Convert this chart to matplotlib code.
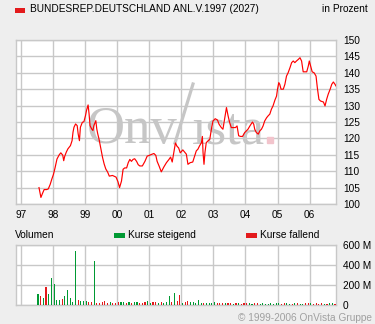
#!/usr/bin/env python3
"""
plot.py

Bond price chart (Bundesrep. Deutschland Anl. v. 1997 / 2027)
with monthly volume panel underneath, OnVista style.
"""

import matplotlib
matplotlib.use("Agg")

import matplotlib.pyplot as plt
from matplotlib.lines import Line2D
import numpy as np

# ============================================================
# DATA
# ============================================================

TITLE = "BUNDESREP.DEUTSCHLAND ANL.V.1997 (2027)"

# price line (decimal year, price in %)
price_years = [
    1997.57, 1997.63, 1997.67, 1997.73, 1997.81, 1997.86, 1997.92, 1997.97,
    1998.02, 1998.07, 1998.13, 1998.20, 1998.25, 1998.31, 1998.34, 1998.37,
    1998.42, 1998.47, 1998.55, 1998.60, 1998.63, 1998.66, 1998.71, 1998.76,
    1998.79, 1998.83, 1998.86, 1998.92, 1998.97, 1999.02, 1999.05, 1999.10,
    1999.13, 1999.16, 1999.21, 1999.25, 1999.28, 1999.34, 1999.37, 1999.40,
    1999.44, 1999.50, 1999.55, 1999.60, 1999.65, 1999.71, 1999.76, 1999.86,
    1999.97, 2000.03, 2000.08,
    2000.14, 2000.19, 2000.24, 2000.30, 2000.35, 2000.40, 2000.45, 2000.50,
    2000.55, 2000.61, 2000.66, 2000.71, 2000.79, 2000.87, 2000.94, 2001.00,
    2001.07, 2001.15, 2001.21, 2001.25, 2001.31, 2001.38, 2001.46, 2001.54,
    2001.62, 2001.67, 2001.72, 2001.75, 2001.78, 2001.82, 2001.87, 2001.92,
    2001.97,
    2002.00, 2002.05, 2002.10, 2002.16, 2002.21, 2002.28, 2002.36, 2002.42,
    2002.47, 2002.52, 2002.57, 2002.63, 2002.66, 2002.68, 2002.71, 2002.74,
    2002.78, 2002.83, 2002.89, 2002.94, 2002.99, 2003.06, 2003.13, 2003.18,
    2003.25, 2003.30, 2003.35, 2003.41, 2003.46, 2003.51, 2003.56, 2003.61,
    2003.69, 2003.74, 2003.79, 2003.85, 2003.91, 2003.98, 2004.03, 2004.08,
    2004.14, 2004.22, 2004.26, 2004.29, 2004.34, 2004.40, 2004.45, 2004.50,
    2004.55, 2004.60, 2004.66, 2004.71, 2004.76, 2004.81, 2004.86, 2004.92,
    2004.97, 2005.00, 2005.04, 2005.07, 2005.11, 2005.18, 2005.23, 2005.28,
    2005.33, 2005.39, 2005.44, 2005.49, 2005.54, 2005.59, 2005.65, 2005.70,
    2005.75, 2005.80, 2005.85, 2005.91, 2005.96, 2005.99, 2006.03, 2006.08,
    2006.14, 2006.20, 2006.24, 2006.29, 2006.34, 2006.43, 2006.48, 2006.53,
    2006.58, 2006.64, 2006.69, 2006.74, 2006.79, 2006.82,
]

price_values = [
    105.0, 102.0, 103.0, 104.4, 104.4, 104.6, 106.0, 107.6,
    109.0, 111.0, 113.7, 115.0, 115.6, 114.9, 113.2, 114.5,
    115.8, 116.8, 117.8, 119.3, 121.9, 123.4, 124.4, 123.9,
    121.4, 119.3, 123.4, 124.9, 125.1, 127.0, 128.5, 130.2,
    127.5, 123.9, 122.9, 122.4, 123.9, 125.4, 122.9, 121.4,
    119.8, 116.8, 114.2, 112.2, 110.7, 109.7, 108.5, 108.7,
    108.2, 106.8, 105.0,
    107.0, 110.6, 111.0, 111.0, 112.6, 113.6, 113.0, 113.6,
    113.8, 113.0, 112.0, 111.6, 111.6, 113.0, 114.6, 114.8,
    115.1, 115.4, 114.8, 113.0, 111.6, 109.8, 111.3, 112.6,
    113.6, 114.3, 112.8, 114.6, 116.6, 118.6, 117.6, 117.1,
    115.6,
    115.9, 116.5, 115.9, 115.2, 112.1, 112.6, 112.8, 114.7,
    116.2, 116.7, 117.7, 118.7, 120.6, 115.7, 112.1, 115.7,
    118.7, 119.2, 119.7, 122.8, 125.3, 126.0, 125.6, 124.3,
    123.3, 122.8, 125.8, 129.4, 126.9, 124.8, 123.3, 123.3,
    123.3, 123.8, 120.8, 120.6, 120.6, 121.8, 122.3, 122.8,
    123.8, 125.0, 124.3, 122.8, 121.8, 121.3, 122.3, 122.8,
    123.8, 125.3, 126.3, 126.9, 127.4, 128.9, 129.9, 131.7,
    132.9, 135.0, 137.0, 136.5, 135.0, 135.0, 136.5, 139.0,
    140.0, 141.6, 143.1, 143.6, 143.1, 143.6, 144.1, 144.6,
    143.6, 140.3, 140.3, 140.3, 142.1, 143.6, 142.1, 140.3,
    140.0, 139.0, 135.5, 131.9, 131.4, 131.1, 129.9, 131.9,
    133.5, 135.0, 136.5, 137.2, 136.5, 136.0,
]

# monthly volume in millions, first month = July 1997
volume_start = 1997.54
volume_millions = [
    110, 90, 70, 180, 110, 270, 210, 50, 50, 60,
    90, 150, 70, 30, 540, 50, 40, 40, 40, 30,
    30, 440, 20, 20, 30, 40, 20, 30, 20, 20,
    30, 30, 30, 20, 30, 20, 30, 30, 20, 20,
    30, 40, 20, 30, 30, 20, 30, 20, 30, 90,
    30, 120, 40, 100, 20, 30, 40, 30, 30, 20,
    50, 25, 20, 20, 20, 20, 30, 20, 25, 20,
    18, 18, 20, 15, 18, 18, 15, 18, 18, 20,
    15, 18, 18, 15, 18, 15, 15, 18, 15, 18,
    18, 15, 18, 18, 15, 15, 18, 18, 15, 15,
    18, 18, 18, 15, 18, 15, 18, 15, 15, 18,
    18, 15,
]

# 1 = Kurse steigend (green), 0 = Kurse fallend (red)
volume_rising = [
    1, 0, 1, 0, 1, 1, 1, 1, 1, 0,
    1, 1, 1, 1, 1, 0, 1, 1, 1, 0,
    0, 1, 0, 0, 0, 0, 0, 1, 0, 0,
    0, 1, 1, 0, 1, 0, 1, 1, 0, 0,
    0, 1, 1, 0, 0, 1, 0, 1, 1, 1,
    0, 1, 0, 0, 1, 0, 0, 1, 1, 1,
    1, 1, 0, 1, 1, 1, 1, 0, 0, 0,
    1, 0, 0, 1, 0, 1, 0, 0, 0, 1,
    1, 0, 0, 1, 1, 1, 1, 1, 1, 1,
    1, 0, 0, 1, 1, 0, 1, 0, 1, 1,
    0, 0, 1, 0, 0, 0, 0, 1, 0, 1,
    1, 0,
]

year_ticks = list(range(1997, 2007))
year_labels = ["97", "98", "99", "00", "01", "02", "03", "04", "05", "06"]

price_ticks = list(range(100, 151, 5))
volume_ticks = [0, 200, 400, 600]
volume_labels = ["0", "200 M", "400 M", "600 M"]

# ============================================================
# STYLE
# ============================================================

BG = "#eeeeee"
GRID = "#c8c8c8"
LINE_RED = "#ff0000"
BAR_GREEN = "#009933"
BAR_RED = "#e31a1c"
MARK = "#c6c6c6"
FONT = "Liberation Sans"
FS = 7.3

W, H = 375, 324
X_MIN, X_MAX = 1996.854, 2006.822


def fig_box(left, top, right, bottom):
    # pixel box -> figure fraction
    return [left / W, 1 - bottom / H, (right - left) / W, (bottom - top) / H]


def fx(px):
    return px / W


def fy(py):
    return 1 - py / H


def style_axes(ax):
    ax.set_facecolor("white")
    for side in ax.spines.values():
        side.set_color(GRID)
        side.set_linewidth(1.0)
    ax.grid(True, color=GRID, linewidth=1.0)
    ax.set_axisbelow(True)
    ax.yaxis.tick_right()
    ax.tick_params(length=0, labelsize=FS, pad=5)
    for lab in ax.get_xticklabels() + ax.get_yticklabels():
        lab.set_fontfamily(FONT)


def draw_watermark(fig, ax):

    base = fy(143)

    ax.text(fx(178), base, "Onv", transform=fig.transFigure,
            family="Liberation Serif", fontsize=38, color=MARK,
            ha="right", va="baseline", zorder=1)

    ax.add_line(Line2D([fx(175), fx(193)], [base, fy(84)],
                       transform=fig.transFigure, color=MARK,
                       linewidth=2.3, zorder=1))

    ax.text(fx(192), base, "\u0131sta", transform=fig.transFigure,
            family="Liberation Serif", fontsize=38, color=MARK,
            ha="left", va="baseline", zorder=1)

    # pink dot drawn as a marker so it sits right after the "a"
    ax.plot([fx(270)], [fy(140)], marker="s", markersize=5,
            color="#f2c4cc", transform=fig.transFigure, zorder=1)


# ============================================================
# MAIN
# ============================================================

def main():

    plt.rcParams["font.family"] = [FONT, "DejaVu Sans"]

    fig = plt.figure(figsize=(W / 100, H / 100), dpi=100, facecolor=BG)

    # ---------------------------------
    # price panel
    # ---------------------------------

    ax = fig.add_axes(fig_box(16, 40, 336, 204))

    ax.plot(price_years, price_values, color=LINE_RED, linewidth=0.85,
            zorder=3)

    ax.set_xlim(X_MIN, X_MAX)
    ax.set_ylim(100, 150)
    ax.set_xticks(year_ticks)
    ax.set_xticklabels(year_labels)
    ax.set_yticks(price_ticks)
    style_axes(ax)
    ax.tick_params(axis="x", pad=4)

    draw_watermark(fig, ax)

    # ---------------------------------
    # volume panel
    # ---------------------------------

    axv = fig.add_axes(fig_box(16, 245, 336, 305))

    months = volume_start + np.arange(len(volume_millions)) / 12.0
    colors = [BAR_GREEN if r else BAR_RED for r in volume_rising]

    axv.bar(months, volume_millions, width=0.035, color=colors,
            linewidth=0, zorder=3)

    axv.set_xlim(X_MIN, X_MAX)
    axv.set_ylim(0, 600)
    axv.set_xticks(year_ticks)
    axv.set_xticklabels([])
    axv.set_yticks(volume_ticks)
    axv.set_yticklabels(volume_labels)
    style_axes(axv)

    # ---------------------------------
    # header / legends / footer
    # ---------------------------------

    fig.patches.append(plt.Rectangle((fx(15), fy(12.5)), 10 / W, 5 / H,
                                     transform=fig.transFigure,
                                     color=BAR_RED, linewidth=0))
    fig.text(fx(29.5), fy(9.5), TITLE, fontsize=FS, va="center", ha="left")
    fig.text(fx(368), fy(9.5), "in Prozent", fontsize=FS,
             va="center", ha="right")

    fig.text(fx(15), fy(235.5), "Volumen", fontsize=FS, va="center")

    fig.patches.append(plt.Rectangle((fx(114), fy(238)), 11 / W, 5 / H,
                                     transform=fig.transFigure,
                                     color=BAR_GREEN, linewidth=0))
    fig.text(fx(128.5), fy(235.5), "Kurse steigend", fontsize=FS,
             va="center")

    fig.patches.append(plt.Rectangle((fx(246), fy(238)), 11 / W, 5 / H,
                                     transform=fig.transFigure,
                                     color=BAR_RED, linewidth=0))
    fig.text(fx(260.5), fy(235.5), "Kurse fallend", fontsize=FS,
             va="center")

    fig.text(fx(372), fy(318), "\u00a9 1999-2006 OnVista Gruppe",
             fontsize=FS, color="#a0a0a0", va="center", ha="right")

    fig.savefig("out.png", dpi=100, facecolor=BG)

    plt.close(fig)


if __name__ == "__main__":
    main()
